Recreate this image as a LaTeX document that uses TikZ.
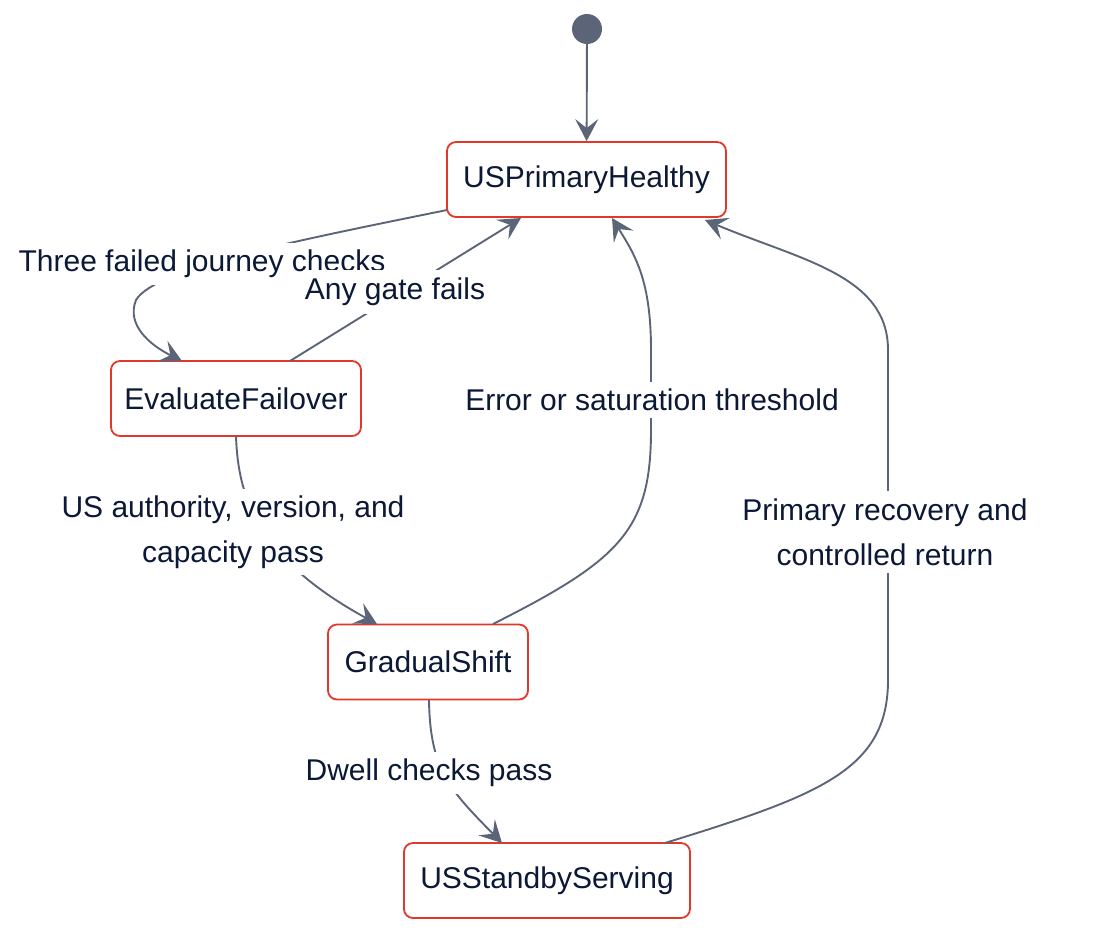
\documentclass[tikz,border=0pt]{standalone}
\usepackage{fontspec}
\setmainfont{Liberation Sans}
\usetikzlibrary{arrows.meta}
\definecolor{edgec}{HTML}{5B6577}
\definecolor{boxc}{HTML}{E0392B}
\definecolor{txtc}{HTML}{0B1836}
\tikzset{
  every node/.style={font=\fontsize{30}{36}\selectfont, text=txtc},
  statebox/.style={draw=boxc, line width=1.8pt, rounded corners=9pt, fill=white, minimum height=75pt, inner sep=0pt, anchor=center},
  edge/.style={draw=edgec, line width=1.9pt, -{Stealth[length=22pt,width=23pt,inset=9pt]}},
  lbl/.style={fill=white, inner xsep=2pt, inner ysep=7pt, align=center},
}
\begin{document}
\begin{tikzpicture}[x=1pt,y=-1pt]
\useasboundingbox (0,0) rectangle (1118,948);
% states
\node[circle, fill=edgec, minimum size=30pt, inner sep=0pt] (start) at (587,29) {};
\node[statebox, minimum width=279pt] (ph) at (586.5,179.5) {USPrimaryHealthy};
\node[statebox, minimum width=250pt] (ef) at (236,398.5) {EvaluateFailover};
\node[statebox, minimum width=200pt] (gs) at (428,662) {GradualShift};
\node[statebox, minimum width=286pt] (ss) at (547,880.5) {USStandbyServing};
% anchor coordinates
\coordinate (phL) at (447,210);
\coordinate (efT) at (182,361);
\coordinate (efR) at (290,361);
\coordinate (phA) at (521,218);
\coordinate (efB) at (236,436);
\coordinate (gsT) at (377,624);
\coordinate (gsR) at (493,624);
\coordinate (phB) at (612,218);
\coordinate (ssR) at (665,843);
\coordinate (phC) at (705,220);
\coordinate (gsB) at (429,700);
\coordinate (ssT) at (502,843);
% edges
\draw[edge] (phL) .. controls (300,240) and (155,268) .. (136,300) .. controls (126,325) and (150,345) .. (efT);
\draw[edge] (start) -- (ph);
\draw[edge] (efR) -- (phA);
\draw[edge] (efB) .. controls (238,500) and (260,560) .. (gsT);
\draw[edge] (gsR) .. controls (620,560) and (651,530) .. (651,430) -- (651,350) .. controls (651,280) and (635,255) .. (phB);
\draw[edge] (ssR) .. controls (820,795) and (888,770) .. (888,680) -- (888,350) .. controls (888,275) and (800,260) .. (phC);
\draw[edge] (gsB) .. controls (430,770) and (450,790) .. (ssT);
% labels
\node[lbl] (l1) at (202,264) {Three failed journey checks};
\node[lbl, inner ysep=8pt] (l2) at (395,292) {Any gate fails};
\node[lbl] (l3) at (233,532) {US authority, version, and\\[9pt]capacity pass};
\node[lbl] (l4) at (652,400) {Error or saturation threshold};
\node[lbl] (l5) at (885,532) {Primary recovery and\\[9pt]controlled return};
\node[lbl] (l6) at (429,773) {Dwell checks pass};
\end{tikzpicture}
\end{document}
